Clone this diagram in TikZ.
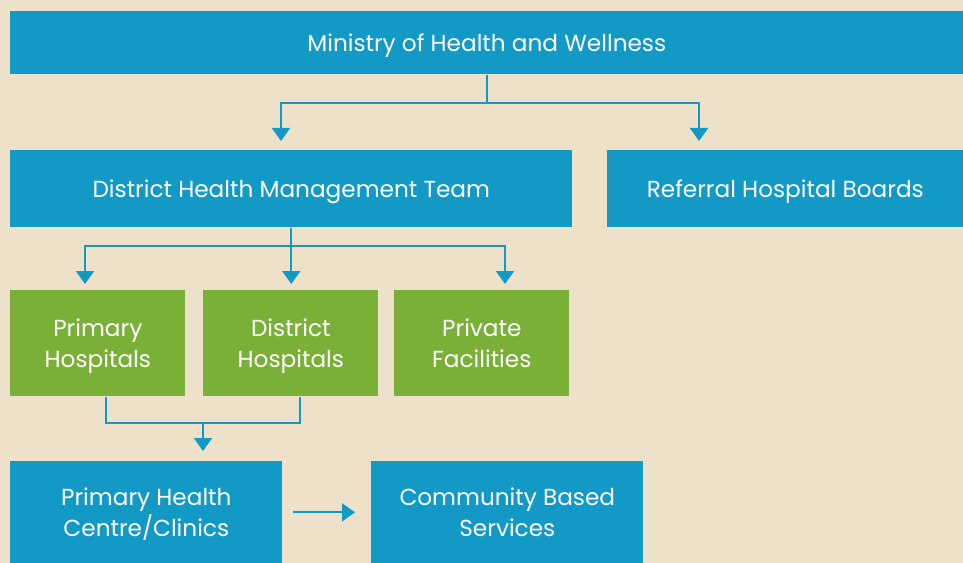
\documentclass[tikz,border=0pt]{standalone}
\usepackage{fontspec}
\setmainfont{Poppins}
\usetikzlibrary{arrows.meta}

\definecolor{bgcream}{HTML}{EDE1CA}
\definecolor{boxblue}{HTML}{1399C6}
\definecolor{boxgreen}{HTML}{7AB037}

\begin{document}
\begin{tikzpicture}[x=0.02cm,y=-0.02cm,
    box/.style={anchor=north west,inner sep=0pt,text=white,align=center,text depth=0pt,
      font=\fontsize{13.2}{17.5}\selectfont},
    bluebox/.style={box,fill=boxblue},
    greenbox/.style={box,fill=boxgreen,minimum width=3.5cm,minimum height=2.12cm},
    link/.style={draw=boxblue,line width=1.1pt},
    arr/.style={link,-{Triangle[width=0.36cm,length=0.26cm]}}]

  \fill[bgcream] (0,0) rectangle (963,563);
  \useasboundingbox (0,0) rectangle (963,563);

  \node[bluebox,minimum width=19.06cm,minimum height=1.26cm] (moh) at (10,11) {Ministry of Health and Wellness};
  \node[bluebox,minimum width=11.24cm,minimum height=1.54cm] (dhmt) at (10,150) {District Health Management Team};
  \node[bluebox,minimum width=7.12cm,minimum height=1.54cm] (rhb) at (607,150) {Referral Hospital Boards};

  \node[greenbox] (ph) at (10,290) {Primary\\Hospitals};
  \node[greenbox] (dh) at (203,290) {District\\Hospitals};
  \node[greenbox] (pf) at (394,290) {Private\\Facilities};

  \node[bluebox,minimum width=5.44cm,minimum height=2.04cm] (phc) at (10,461) {Primary Health\\Centre/Clinics};
  \node[bluebox,minimum width=5.44cm,minimum height=2.04cm] (cbs) at (371,461) {Community Based\\Services};

  % ministry to the two boards
  \coordinate (j1) at (281,103);
  \coordinate (j2) at (699,103);
  \draw[arr,shorten >=0.18cm] (moh.south) |- (j1) -- (j1 |- dhmt.north);
  \draw[arr,shorten >=0.18cm] (moh.south) |- (j2) -- (j2 |- rhb.north);

  % team to the hospitals
  \coordinate (d1) at (85,246);
  \coordinate (d3) at (505,246);
  \draw[arr,shorten >=0.12cm] (dhmt.south) |- (d1) -- (d1 |- ph.north);
  \draw[arr,shorten >=0.12cm] (dhmt.south) |- (d3) -- (d3 |- pf.north);
  \draw[arr,shorten >=0.12cm] (dhmt.south) -- (dhmt.south |- dh.north);

  % hospitals to the clinics
  \coordinate (e1) at (106,423);
  \coordinate (e2) at (300,423);
  \coordinate (e3) at (203,423);
  \draw[link] (e1 |- ph.south) -- (e1) -- (e2) -- (e2 |- dh.south);
  \draw[arr,shorten >=0.2cm] (e3) -- (e3 |- phc.north);

  \draw[arr,shorten <=0.2cm,shorten >=0.32cm] (phc) -- (cbs);
\end{tikzpicture}
\end{document}
